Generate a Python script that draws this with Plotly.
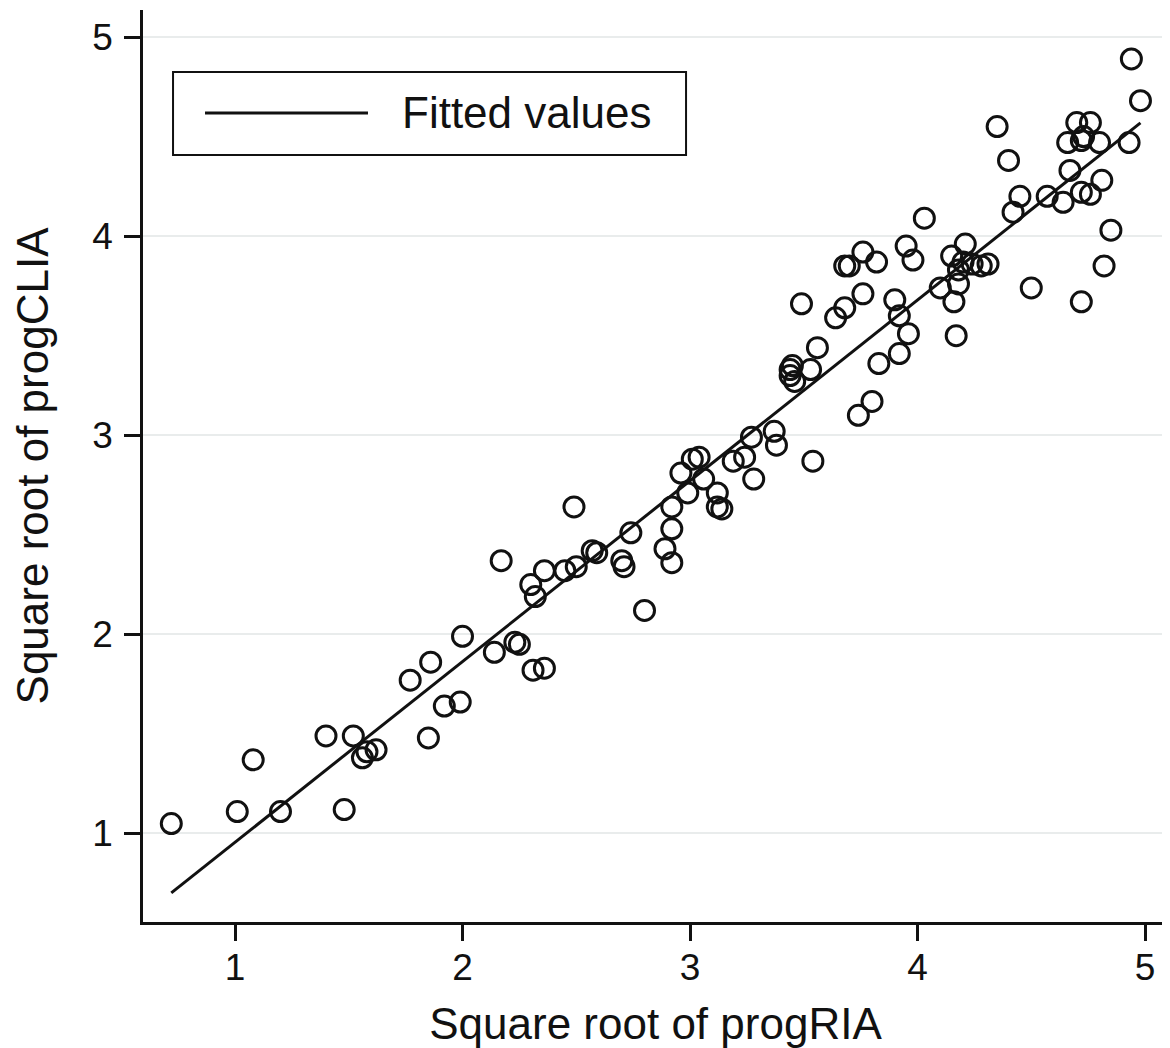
import numpy as np
import plotly.graph_objects as go

# Data
sqrt_prog_ria = [
    0.72, 1.01, 1.08, 1.20, 1.40, 1.48, 1.52, 1.56, 1.58, 1.62,
    1.77, 1.85, 1.86, 1.92, 1.99, 2.00, 2.14, 2.17, 2.23, 2.25,
    2.31, 2.36, 2.30, 2.32, 2.36, 2.45, 2.50, 2.49, 2.57, 2.59,
    2.70, 2.71, 2.74, 2.80, 2.89, 2.92, 2.92, 2.92, 2.96, 2.99,
    3.01, 3.04, 3.06, 3.12, 3.12, 3.14, 3.19, 3.24, 3.28, 3.27,
    3.37, 3.38, 3.54, 3.44, 3.45, 3.44, 3.46, 3.53, 3.56, 3.49,
    3.64, 3.68, 3.74, 3.80, 3.83, 3.92, 3.96, 3.92, 3.90, 3.76,
    3.68, 3.70, 3.76, 3.82, 3.95, 3.98, 4.03, 4.10, 4.16, 4.17,
    4.18, 4.15, 4.21, 4.18, 4.20, 4.24, 4.28, 4.31, 4.35, 4.40,
    4.42, 4.45, 4.50, 4.57, 4.64, 4.67, 4.66, 4.70, 4.72, 4.73,
    4.76, 4.80, 4.93, 4.94, 4.98, 4.72, 4.76, 4.81, 4.85, 4.82,
    4.72,
]
sqrt_prog_clia = [
    1.05, 1.11, 1.37, 1.11, 1.49, 1.12, 1.49, 1.38, 1.41, 1.42,
    1.77, 1.48, 1.86, 1.64, 1.66, 1.99, 1.91, 2.37, 1.96, 1.95,
    1.82, 1.83, 2.25, 2.19, 2.32, 2.32, 2.34, 2.64, 2.42, 2.41,
    2.37, 2.34, 2.51, 2.12, 2.43, 2.36, 2.53, 2.64, 2.81, 2.71,
    2.88, 2.89, 2.78, 2.71, 2.64, 2.63, 2.87, 2.89, 2.78, 2.99,
    3.02, 2.95, 2.87, 3.33, 3.35, 3.30, 3.27, 3.33, 3.44, 3.66,
    3.59, 3.64, 3.10, 3.17, 3.36, 3.41, 3.51, 3.60, 3.68, 3.71,
    3.85, 3.85, 3.92, 3.87, 3.95, 3.88, 4.09, 3.74, 3.67, 3.50,
    3.76, 3.90, 3.96, 3.83, 3.87, 3.86, 3.85, 3.86, 4.55, 4.38,
    4.12, 4.20, 3.74, 4.20, 4.17, 4.33, 4.47, 4.57, 4.48, 4.50,
    4.57, 4.47, 4.47, 4.89, 4.68, 4.22, 4.21, 4.28, 4.03, 3.85,
    3.67,
]
x_tick_vals = [1, 2, 3, 4, 5]
y_tick_vals = [1, 2, 3, 4, 5]
x_title = "Square root of progRIA"
y_title = "Square root of progCLIA"
legend_label = "Fitted values"

# Ordinary least squares fitted values
xa = np.array(sqrt_prog_ria)
ya = np.array(sqrt_prog_clia)
slope, intercept = np.polyfit(xa, ya, 1)
fit_x = np.array([xa.min(), xa.max()])
fit_y = intercept + slope * fit_x

FONT = "Liberation Sans, Arial, Helvetica, sans-serif"
INK = "#111111"

fig = go.Figure()
fig.add_trace(go.Scatter(
    x=sqrt_prog_ria, y=sqrt_prog_clia, mode="markers",
    marker=dict(symbol="circle-open", size=20, color=INK,
                line=dict(width=3, color=INK)),
    showlegend=False, hoverinfo="x+y",
))
fig.add_trace(go.Scatter(
    x=fit_x, y=fit_y, mode="lines", name=legend_label,
    line=dict(color=INK, width=3), showlegend=False,
))

# Legend box (Stata-style, long line key)
fig.add_shape(type="rect", xref="paper", yref="paper",
              x0=0.0293, x1=0.5298, y0=0.8410, y1=0.9320,
              line=dict(color=INK, width=2), fillcolor="white", layer="above")
fig.add_shape(type="line", xref="paper", yref="paper",
              x0=0.0605, x1=0.2195, y0=0.8871, y1=0.8871,
              line=dict(color=INK, width=3), layer="above")
fig.add_annotation(xref="paper", yref="paper", x=0.2507, y=0.8871,
                   xanchor="left", yanchor="middle", text=legend_label,
                   showarrow=False, font=dict(size=44, family=FONT, color=INK))

fig.update_layout(
    width=1162, height=1040,
    margin=dict(l=135, r=2, t=2, b=126),
    paper_bgcolor="white", plot_bgcolor="white",
    font=dict(family=FONT, color=INK),
    showlegend=False,
    xaxis=dict(
        range=[0.5956, 5.101], tickvals=x_tick_vals, automargin=False,
        showgrid=False, zeroline=False,
        showline=True, linecolor=INK, linewidth=2.5,
        ticks="outside", ticklen=16, tickwidth=2.5, tickcolor=INK,
        ticklabelstandoff=-5,
        tickfont=dict(size=37, family=FONT, color=INK),
        title=dict(text=x_title, font=dict(size=44, family=FONT, color=INK), standoff=22),
    ),
    yaxis=dict(
        range=[0.5555, 5.1356], tickvals=y_tick_vals, automargin=False,
        showgrid=True, gridcolor="#e9ecec", gridwidth=1.5, zeroline=False,
        showline=True, linecolor=INK, linewidth=2.5,
        ticks="outside", ticklen=16, tickwidth=2.5, tickcolor=INK,
        ticklabelstandoff=4,
        tickfont=dict(size=37, family=FONT, color=INK),
        title=dict(text=y_title, font=dict(size=44, family=FONT, color=INK), standoff=34),
    ),
)

fig.write_html("out.html")
